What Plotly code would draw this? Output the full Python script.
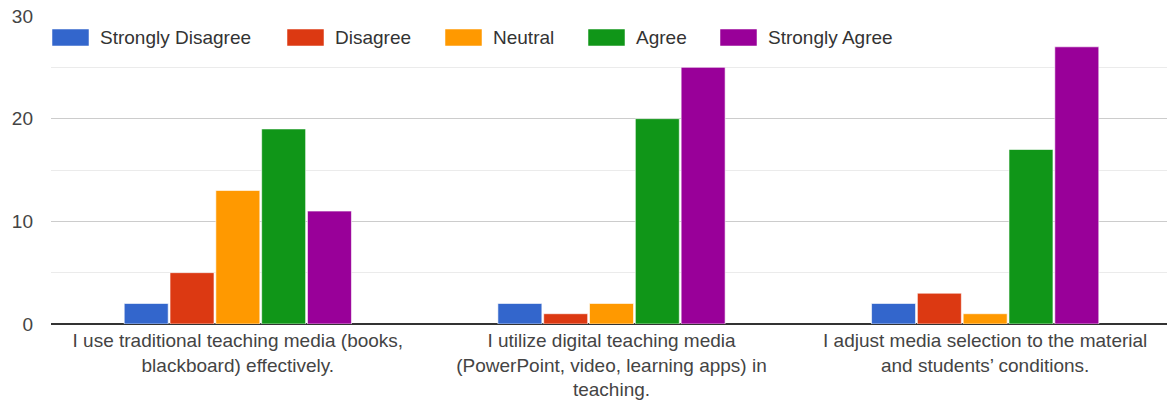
import plotly.graph_objects as go

# Survey statements (x categories) with wrapped tick text
statements = [
    "I use traditional teaching media (books, blackboard) effectively.",
    "I utilize digital teaching media (PowerPoint, video, learning apps) in teaching.",
    "I adjust media selection to the material and students\u2019 conditions.",
]
statement_labels = [
    "I use traditional teaching media (books,<br>blackboard) effectively.",
    "I utilize digital teaching media<br>(PowerPoint, video, learning apps) in<br>teaching.",
    "I adjust media selection to the material<br>and students\u2019 conditions.",
]

# Response counts per Likert level
strongly_disagree = [2, 2, 2]
disagree = [5, 1, 3]
neutral = [13, 2, 1]
agree = [19, 20, 17]
strongly_agree = [11, 25, 27]

series_names = ["Strongly Disagree", "Disagree", "Neutral", "Agree", "Strongly Agree"]
series_values = [strongly_disagree, disagree, neutral, agree, strongly_agree]
series_colors = ["#3366cc", "#dc3912", "#ff9900", "#109618", "#990099"]

y_ticks = [0, 10, 20, 30]

FONT = "Liberation Sans, Arial, sans-serif"
TEXT_COLOR = "#444444"

fig = go.Figure()
for name, vals, color in zip(series_names, series_values, series_colors):
    fig.add_trace(go.Bar(
        name=name,
        x=statements,
        y=vals,
        marker=dict(color=color, line=dict(color="rgba(255,255,255,0.6)", width=1)),
        showlegend=False,
        hoverinfo="x+y+name",
    ))

# Custom legend row with large swatches
legend_x = [52, 287, 445, 588, 720]
W = 1167
H = 403
for name, color, lx in zip(series_names, series_colors, legend_x):
    fig.add_shape(
        type="rect", xref="paper", yref="paper",
        x0=(lx - 51) / (W - 51), x1=(lx - 51 + 37) / (W - 51),
        y0=(324 - 46) / 308, y1=(324 - 29) / 308,
        fillcolor=color, line=dict(color="rgba(255,255,255,0.5)", width=1),
        layer="above",
    )
    fig.add_annotation(
        xref="paper", yref="paper",
        x=(lx - 51 + 46) / (W - 51), y=(324 - 37.5) / 308,
        text=name, showarrow=False, xanchor="left", yanchor="middle",
        font=dict(family=FONT, size=19, color="#333333"),
    )

fig.update_layout(
    width=W, height=H,
    margin=dict(l=51, r=0, t=16, b=79),
    plot_bgcolor="white", paper_bgcolor="white",
    barmode="group",
    bargap=0.387,
    bargroupgap=0.04,
    font=dict(family=FONT, size=19, color=TEXT_COLOR),
    xaxis=dict(
        tickmode="array",
        tickvals=statements,
        ticktext=statement_labels,
        range=[-0.5, 2.4866],
        showgrid=False,
        ticks="",
        ticklabelstandoff=3,
        tickfont=dict(size=19, color=TEXT_COLOR),
        showline=False,
    ),
    yaxis=dict(
        range=[0, 30],
        tickvals=y_ticks,
        showgrid=True,
        gridcolor="#cccccc",
        gridwidth=1,
        minor=dict(dtick=5, showgrid=True, gridcolor="#ebebeb", gridwidth=1),
        zeroline=True,
        zerolinecolor="#333333",
        zerolinewidth=2,
        ticks="",
        ticklabelstandoff=17,
        tickfont=dict(size=19, color=TEXT_COLOR),
    ),
)

fig.write_html("out.html")
